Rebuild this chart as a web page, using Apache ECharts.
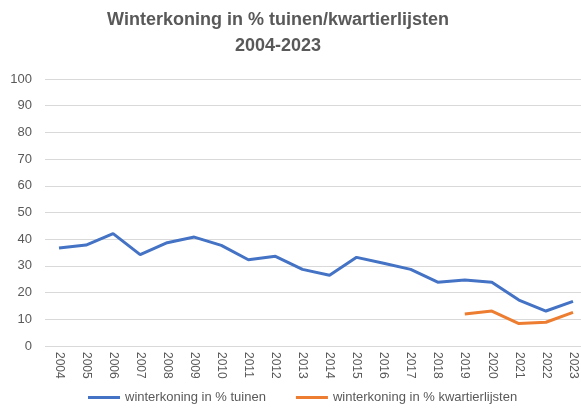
<!DOCTYPE html>
<html><head><meta charset="utf-8">
<script src="https://cdn.jsdelivr.net/npm/echarts@6/dist/echarts.min.js"></script>
<style>html,body{margin:0;padding:0;background:#fff}#c{width:581px;height:416px}</style>
</head><body><div id="c"></div>
<script>
const years = ['2004','2005','2006','2007','2008','2009','2010','2011','2012','2013','2014','2015','2016','2017','2018','2019','2020','2021','2022','2023'];
const tuinen = [36.7,37.8,42.1,34.2,38.7,40.8,37.7,32.3,33.6,28.7,26.5,33.2,31.0,28.7,23.9,24.7,23.9,17.2,13.1,16.7];
const kwartier = [null,null,null,null,null,null,null,null,null,null,null,null,null,null,null,12.0,13.1,8.4,8.9,12.6];
const yTicks = [0,10,20,30,40,50,60,70,80,90,100];
const ff = '"Liberation Sans", Arial, sans-serif';
const yMin = yTicks[0], yMax = yTicks[yTicks.length-1];
const chart = echarts.init(document.getElementById('c'));
chart.setOption({
  animation:false,
  title:{text:'Winterkoning in % tuinen/kwartierlijsten\n2004-2023',left:273,textAlign:'center',top:2,
    textStyle:{fontFamily:ff,fontSize:18,fontWeight:'bold',color:'#595959',lineHeight:26}},
  legend:{top:386,left:83,itemWidth:32,itemHeight:3,itemGap:30,icon:'rect',
    textStyle:{fontFamily:ff,fontSize:13,color:'#595959'},
    data:['winterkoning in % tuinen','winterkoning in % kwartierlijsten']},
  grid:[
    {left:59,top:79,width:514,height:267},
    {left:45,top:79,right:0,height:267}
  ],
  xAxis:[
    {type:'category',gridIndex:0,data:years,boundaryGap:false,
     axisLine:{show:false},axisTick:{show:false},splitLine:{show:false},
     axisLabel:{rotate:-90,interval:0,fontFamily:ff,fontSize:12,color:'#595959',margin:6}},
    {type:'value',gridIndex:1,show:false}
  ],
  yAxis:[
    {type:'value',gridIndex:0,min:yMin,max:yMax,interval:10,
     axisLine:{show:false},axisTick:{show:false},splitLine:{show:false},
     axisLabel:{fontFamily:ff,fontSize:13,color:'#595959',margin:27}},
    {type:'value',gridIndex:1,min:yMin,max:yMax,interval:10,
     axisLine:{show:false},axisTick:{show:false},axisLabel:{show:false},
     splitLine:{lineStyle:{color:'#d9d9d9'}}}
  ],
  series:[
    {name:'winterkoning in % tuinen',type:'line',data:tuinen,symbol:'none',
     lineStyle:{width:3,color:'#4472C4'},itemStyle:{color:'#4472C4'}},
    {name:'winterkoning in % kwartierlijsten',type:'line',data:kwartier,symbol:'none',
     lineStyle:{width:3,color:'#ED7D31'},itemStyle:{color:'#ED7D31'}}
  ]
});
</script></body></html>
